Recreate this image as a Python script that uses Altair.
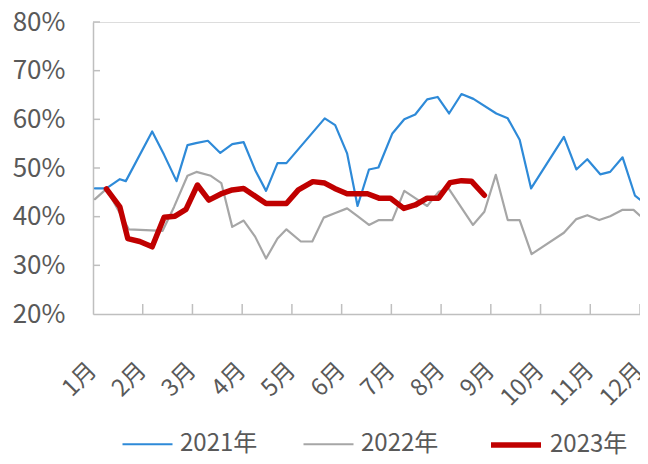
import altair as alt
import pandas as pd

months = list(range(1, 13))
y_tick_values = [20, 30, 40, 50, 60, 70, 80]
years = ["2021年", "2022年", "2023年"]
colors = ["#2e8ad8", "#a6a6a6", "#c00000"]
widths = [2.2, 2.2, 5.5]

m2021 = [1.04, 1.27, 1.54, 1.66, 2.19, 2.43, 2.68, 2.90, 3.07, 3.31, 3.56, 3.80, 4.03, 4.26, 4.48,
         4.71, 4.89, 5.66, 5.87, 6.11, 6.32, 6.55, 6.74, 7.02, 7.26, 7.48, 7.72, 7.93, 8.16, 8.41,
         8.65, 9.11, 9.34, 9.58, 9.81, 10.47, 10.72, 10.94, 11.20, 11.40, 11.65, 11.90, 12.0]
v2021 = [45.8, 45.8, 47.7, 47.3, 57.5, 52.7, 47.3, 54.7, 55.1, 55.6, 53.1, 54.9, 55.3, 49.6, 45.3,
         51.0, 51.0, 60.2, 58.8, 53.0, 42.2, 49.7, 50.1, 57.1, 60.0, 61.0, 64.1, 64.6, 61.2, 65.2,
         64.2, 61.2, 60.2, 55.8, 45.8, 56.4, 49.7, 51.8, 48.7, 49.2, 52.2, 44.3, 43.5]

m2022 = [1.04, 1.27, 1.72, 2.40, 2.63, 2.90, 3.08, 3.37, 3.58, 3.80, 4.03, 4.26, 4.48, 4.71, 4.89,
         5.18, 5.41, 5.64, 5.86, 6.11, 6.32, 6.55, 6.75, 7.02, 7.26, 7.48, 7.72, 7.95, 8.15, 8.64,
         8.87, 9.10, 9.34, 9.58, 9.82, 10.47, 10.72, 10.94, 11.18, 11.40, 11.65, 11.87, 12.0]
v2022 = [43.6, 45.7, 37.4, 37.1, 42.0, 48.4, 49.2, 48.4, 46.9, 37.9, 39.2, 35.9, 31.4, 35.5, 37.4,
         34.9, 34.9, 39.8, 40.7, 41.7, 40.1, 38.3, 39.3, 39.3, 45.3, 43.8, 42.2, 45.1, 45.8, 38.3,
         41.0, 48.6, 39.3, 39.3, 32.3, 36.7, 39.5, 40.3, 39.3, 40.1, 41.4, 41.4, 40.2]

m2023 = [1.27, 1.54, 1.70, 1.94, 2.19, 2.43, 2.65, 2.87, 3.10, 3.33, 3.60, 3.80, 4.03, 4.48, 4.89,
         5.13, 5.42, 5.66, 5.86, 6.11, 6.52, 6.75, 6.98, 7.25, 7.48, 7.72, 7.95, 8.18, 8.41, 8.61, 8.87]
v2023 = [45.7, 42.0, 35.5, 34.9, 33.8, 39.9, 40.1, 41.5, 46.5, 43.4, 44.8, 45.5, 45.8, 42.7, 42.7,
         45.5, 47.2, 46.9, 45.8, 44.7, 44.7, 43.8, 43.8, 41.7, 42.4, 43.8, 43.8, 47.0, 47.4, 47.3, 44.4]

rows = []
for yr, ms, vs in zip(years, [m2021, m2022, m2023], [v2021, v2022, v2023]):
    for i, (m, v) in enumerate(zip(ms, vs)):
        rows.append({"year": yr, "m": m, "v": v, "i": i})
df = pd.DataFrame(rows)

W, H = 547, 292
FONT = "Noto Sans CJK SC"
AXC = "#bfbfbf"
LABC = "#595959"

xscale = alt.Scale(domain=[1, 12], nice=False, zero=False)
yscale = alt.Scale(domain=[20, 80], nice=False, zero=False)

legend_spec = dict(orient="none", legendX=28, legendY=395, direction="horizontal", title=None,
                   symbolType="stroke", symbolSize=2500, labelFontSize=24, labelFont=FONT,
                   labelColor=LABC, columnPadding=41, labelOffset=6)

lines = alt.Chart(df).mark_line(strokeCap="round", strokeJoin="round").encode(
    x=alt.X("m:Q", scale=xscale,
            axis=alt.Axis(values=months, labelExpr="datum.value + '月'", labelAngle=-45,
                          labelFontSize=23.5, labelFont=FONT, labelColor=LABC, tickSize=0,
                          labelPadding=44, labelOffset=-9, domainColor=AXC, domainWidth=1.5,
                          grid=False, title=None, labelOverlap=False, labelBound=False,
                          labelFlush=False)),
    y=alt.Y("v:Q", scale=yscale,
            axis=alt.Axis(values=y_tick_values, labelExpr="datum.value + '%'", labelFontSize=26,
                          labelFont=FONT, labelColor=LABC, tickSize=0, labelPadding=28,
                          domainColor=AXC, domainWidth=1.5, grid=False, title=None,
                          labelFlush=False, labelOverlap=False)),
    color=alt.Color("year:N", scale=alt.Scale(domain=years, range=colors),
                    legend=alt.Legend(**legend_spec)),
    strokeWidth=alt.StrokeWidth("year:N",
                                scale=alt.Scale(type="ordinal", domain=years, range=widths),
                                legend=alt.Legend(**legend_spec)),
    order="i:Q",
)

xt = pd.DataFrame({"m": months[1:]})
yt = pd.DataFrame({"v": y_tick_values[1:]})

xticks = alt.Chart(xt).mark_rule(color=AXC, strokeWidth=1.5).encode(
    x=alt.X("m:Q", scale=xscale), y=alt.value(H), y2=alt.value(H - 10))
yticks = alt.Chart(yt).mark_rule(color=AXC, strokeWidth=1.5).encode(
    y=alt.Y("v:Q", scale=yscale), x=alt.value(0), x2=alt.value(7))

chart = alt.layer(xticks, yticks, lines).properties(
    width=W, height=H,
    autosize=alt.AutoSizeParams(type="none"),
    padding={"left": 85, "top": 14, "right": 0, "bottom": 142},
).configure_view(stroke=None).configure(background="white")

chart.save("out.html", embed_options={"renderer": "svg", "actions": False})
